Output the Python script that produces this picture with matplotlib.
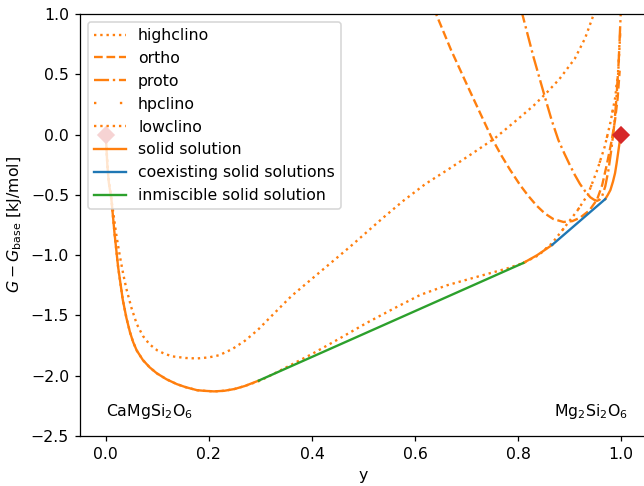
import numpy as np
import matplotlib
matplotlib.use('Agg')
import matplotlib.pyplot as plt

# phase curves (y composition, G - G_base in kJ/mol)
highclino_x=[0,0.004,0.009,0.014,0.02,0.027,0.034,0.04,0.05,0.06,0.072,0.085,0.1,0.115,0.13,0.155,0.177,0.2,
             0.22,0.245,0.27,0.295,0.318,0.36,0.41,0.474,0.538,0.577,0.62,0.664,0.71,0.755,0.80,0.83,0.856,
             0.88,0.91,0.93,0.946,0.952]
highclino_g=[0,-0.3,-0.48,-0.63,-0.82,-1.0,-1.16,-1.28,-1.44,-1.57,-1.67,-1.74,-1.79,-1.82,-1.84,-1.853,-1.857,
             -1.848,-1.83,-1.78,-1.71,-1.62,-1.52,-1.34,-1.16,-0.93,-0.69,-0.55,-0.41,-0.29,-0.16,-0.03,0.13,
             0.24,0.35,0.46,0.63,0.8,0.99,1.06]
ortho_x=[0.636,0.67,0.70,0.725,0.749,0.767,0.784,0.804,0.82,0.836,0.852,0.868,0.888,0.905,0.92,0.938,0.953,
         0.963,0.972,0.981,0.988,0.993,0.997]
ortho_g=[1.05,0.7,0.42,0.19,-0.03,-0.17,-0.29,-0.42,-0.51,-0.59,-0.655,-0.70,-0.725,-0.718,-0.69,-0.63,-0.54,
         -0.42,-0.25,-0.06,0.12,0.3,0.53]
proto_x=[0.805,0.83,0.852,0.865,0.878,0.89,0.90,0.91,0.92,0.93,0.94,0.947,0.953,0.958,0.963,0.969,0.975,
         0.981,0.987,0.991,0.995,0.999]
proto_g=[1.05,0.64,0.31,0.12,-0.045,-0.16,-0.25,-0.335,-0.41,-0.47,-0.52,-0.54,-0.55,-0.54,-0.51,-0.43,-0.3,
         -0.12,0.1,0.32,0.6,1.0]
lowclino_x=[0,0.003,0.006,0.011,0.017,0.024,0.033,0.04,0.047,0.053,0.06,0.072,0.085,0.099,0.118,0.138,0.155,
            0.177,0.19,0.21,0.23,0.25,0.27,0.3,0.33,0.4,0.45,0.507,0.56,0.61,0.662,0.72,0.779,0.81,0.84,0.866,
            0.89,0.915,0.935,0.953,0.968,0.979,0.988,0.994,0.998]
lowclino_g=[0,-0.25,-0.4,-0.54,-0.82,-1.1,-1.37,-1.52,-1.64,-1.72,-1.79,-1.87,-1.93,-1.98,-2.03,-2.07,-2.095,
            -2.12,-2.125,-2.13,-2.125,-2.11,-2.085,-2.04,-1.975,-1.82,-1.7,-1.56,-1.44,-1.33,-1.25,-1.18,-1.11,
            -1.065,-1.0,-0.9,-0.77,-0.63,-0.5,-0.3,-0.1,0.1,0.3,0.5,0.84]
hpclino_x=lowclino_x[-12:]
hpclino_g=lowclino_g[-12:]

# stable solid solution branches
ss_left_x=[0,0.003,0.006,0.011,0.017,0.024,0.033,0.04,0.047,0.053,0.06,0.072,0.085,0.099,0.118,0.138,0.155,
           0.177,0.19,0.21,0.23,0.25,0.27,0.297]
ss_left_g=[0,-0.25,-0.4,-0.54,-0.82,-1.1,-1.37,-1.52,-1.64,-1.72,-1.79,-1.87,-1.93,-1.98,-2.03,-2.07,-2.095,
           -2.12,-2.125,-2.13,-2.125,-2.11,-2.085,-2.04]
ss_mid_x=[0.81,0.837,0.866]
ss_mid_g=[-1.065,-1.0,-0.915]
ss_right_x=[0.969,0.974,0.979,0.984,0.988,0.991,0.994,0.998,1.0]
ss_right_g=[-0.535,-0.5,-0.46,-0.39,-0.32,-0.24,-0.15,-0.03,0.0]
coex_x=[0.866,0.969]
coex_g=[-0.915,-0.535]
inmisc_x=[0.297,0.81]
inmisc_g=[-2.04,-1.065]
end_x=[0.0,1.0]
end_g=[0.0,0.0]

DPI=113
plt.rcParams.update({'font.family':'DejaVu Sans','font.size':10,'lines.linewidth':1.5})
fig=plt.figure(figsize=(644/DPI,486/DPI),dpi=DPI)
ax=fig.add_axes([80/644,50/486,567/644,422/486])

ax.plot(highclino_x,highclino_g,ls=':',color='C1',label='highclino')
ax.plot(ortho_x,ortho_g,ls='--',color='C1',label='ortho')
ax.plot(proto_x,proto_g,ls='-.',color='C1',label='proto')
ax.plot(hpclino_x,hpclino_g,ls=(0,(1,10)),color='C1',label='hpclino')
ax.plot(lowclino_x,lowclino_g,ls=':',color='C1',label='lowclino')
ax.plot(ss_left_x,ss_left_g,'-',color='C1',label='solid solution')
ax.plot(ss_mid_x,ss_mid_g,'-',color='C1')
ax.plot(ss_right_x,ss_right_g,'-',color='C1')
ax.plot(coex_x,coex_g,'-',color='C0',label='coexisting solid solutions')
ax.plot(inmisc_x,inmisc_g,'-',color='C2',label='inmiscible solid solution')
ax.plot(end_x,end_g,'D',color='C3',ms=7,zorder=5)

ax.text(0.0,-2.3,r'CaMgSi$_2$O$_6$',ha='left',va='center')
ax.text(1.013,-2.3,r'Mg$_2$Si$_2$O$_6$',ha='right',va='center')

ax.set_xlim(-0.05,1.05); ax.set_ylim(-2.5,1.0)
ax.set_xticks(np.arange(0,1.01,0.2))
ax.set_yticks(np.arange(-2.5,1.01,0.5))
ax.set_xlabel('y')
ax.set_ylabel(r'$G - G_\mathrm{base}$ [kJ/mol]')
ax.legend(loc='upper left')

plt.savefig('out.png',dpi=DPI,facecolor='white')
